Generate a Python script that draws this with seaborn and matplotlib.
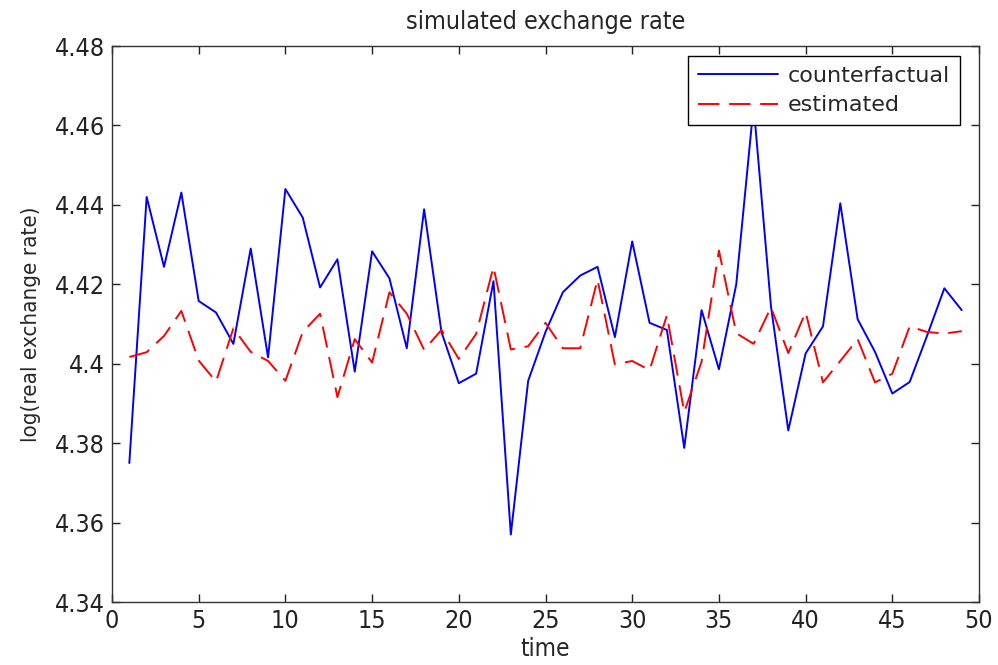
import numpy as np
import pandas as pd
import matplotlib
matplotlib.use("Agg")
import matplotlib.pyplot as plt
import seaborn as sns

time = list(range(1, 50))

counterfactual = [
    4.375, 4.442, 4.4244, 4.4431, 4.4158, 4.4129, 4.4050, 4.4290, 4.4016, 4.4440,
    4.4368, 4.4192, 4.4263, 4.3980, 4.4283, 4.4215, 4.4039, 4.4389, 4.4080, 4.3951,
    4.3975, 4.4208, 4.3570, 4.3957, 4.4080, 4.4180, 4.4222, 4.4244, 4.4067, 4.4308,
    4.4103, 4.4085, 4.3788, 4.4135, 4.3986, 4.4200, 4.4650, 4.4145, 4.3832, 4.4026,
    4.4094, 4.4404, 4.4112, 4.4030, 4.3925, 4.3954, 4.4070, 4.4190, 4.4135,
]

estimated = [
    4.4017, 4.4029, 4.4070, 4.4133, 4.4008, 4.3955, 4.4089, 4.4030, 4.4007, 4.3957,
    4.4080, 4.4126, 4.3916, 4.4062, 4.4003, 4.4180, 4.4126, 4.4035, 4.4085, 4.4012,
    4.4075, 4.4244, 4.4036, 4.4044, 4.4103, 4.4039, 4.4039, 4.4212, 4.3998, 4.4007,
    4.3984, 4.4122, 4.3878, 4.4005, 4.4285, 4.4077, 4.4050, 4.4142, 4.4027, 4.4130,
    4.3953, 4.4007, 4.4062, 4.3953, 4.3975, 4.4094, 4.4080, 4.4076, 4.4082,
]

series_names = ["counterfactual", "estimated"]
x_ticks = [0, 5, 10, 15, 20, 25, 30, 35, 40, 45, 50]
y_ticks = [4.34, 4.36, 4.38, 4.40, 4.42, 4.44, 4.46, 4.48]
y_tick_labels = ["4.34", "4.36", "4.38", "4.4", "4.42", "4.44", "4.46", "4.48"]

df = pd.DataFrame({
    "time": time * 2,
    "value": counterfactual + estimated,
    "series": [series_names[0]] * len(time) + [series_names[1]] * len(time),
})

sns.set_style("ticks")
plt.rcParams["font.family"] = ["DejaVu Sans"]
plt.rcParams["font.stretch"] = "condensed"

fig = plt.figure(figsize=(9.98, 6.65), dpi=100)
ax = fig.add_axes([0.1122, 0.0947, 0.8688, 0.8361])

palette = {"counterfactual": "#0000ff", "estimated": "#ff0000"}
sns.lineplot(data=df, x="time", y="value", hue="series", style="series",
             palette=palette, dashes={"counterfactual": "", "estimated": (11, 5)},
             linewidth=1.4, ax=ax, legend=True)

ax.set_xlim(0, 50)
ax.set_ylim(4.34, 4.48)
ax.set_xticks(x_ticks)
ax.set_yticks(y_ticks)
ax.set_yticklabels(y_tick_labels)
ax.tick_params(direction="in", top=True, right=True, length=6, width=1,
               labelsize=18, colors="#222222", pad=5)
for s in ax.spines.values():
    s.set_visible(True)
    s.set_linewidth(1.0)
    s.set_color("#333333")

ax.set_title("simulated exchange rate", fontsize=18, pad=12)
ax.set_xlabel("time", fontsize=17.5, labelpad=3)
ax.set_ylabel("log(real exchange rate)", fontsize=16, labelpad=10)

leg = ax.legend(loc="upper right", frameon=True, fancybox=False,
                prop={"family": "DejaVu Sans", "stretch": "normal", "size": 16},
                framealpha=1, edgecolor="black", borderpad=0.45,
                labelspacing=0.42, handlelength=3.6, handletextpad=0.45,
                borderaxespad=0, bbox_to_anchor=(0.978, 0.982))
leg.get_frame().set_linewidth(1.0)

fig.savefig("out.png", dpi=100, facecolor="white")
